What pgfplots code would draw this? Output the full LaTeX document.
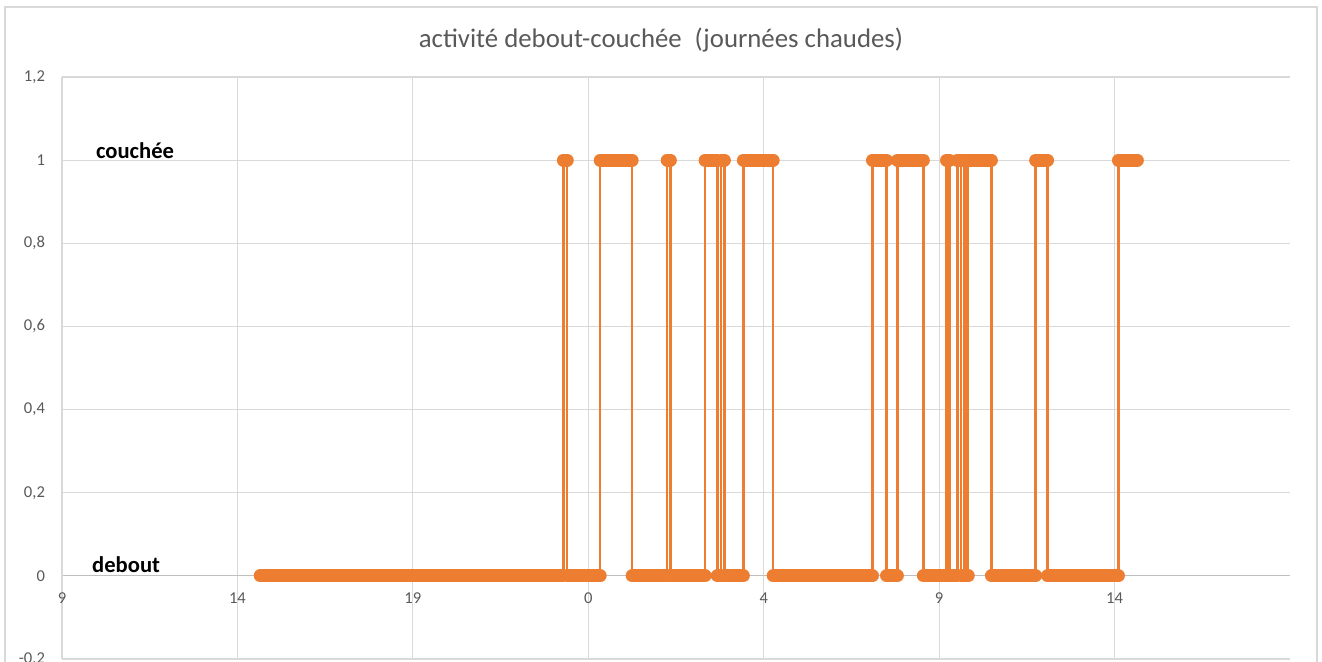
\documentclass[border=0pt]{standalone}
\usepackage{pgfplots}
\pgfplotsset{compat=1.18}
\usepackage{fontspec}
\setmainfont{Carlito}
\definecolor{orng}{HTML}{ED7D31}
\definecolor{gridc}{HTML}{D9D9D9}
\definecolor{axc}{HTML}{BFBFBF}
\definecolor{txt}{HTML}{595959}
\begin{document}
\begin{tikzpicture}[x=1pt,y=1pt]
\path[use as bounding box] (0,0) rectangle (661,331);
\draw[gridc, line width=0.75pt] (2.5,-5) -- (2.5,327.5) -- (658.5,327.5) -- (658.5,-5);
\node[text=txt, font=\fontsize{13.4}{16}\selectfont] at (330.5,311) {activité debout-couchée\hspace{0.25em} (journées chaudes)};
\begin{axis}[at={(31pt,1.5pt)}, anchor=south west, scale only axis, width=614pt, height=291pt,
 xmin=9, xmax=44, ymin=-0.2, ymax=1.2,
 xtick={9,14,19,24,29,34,39}, xticklabels={9,14,19,0,4,9,14},
 ytick={-0.2,0,0.2,0.4,0.6,0.8,1,1.2},
 yticklabels={{-0,2},{0},{0,2},{0,4},{0,6},{0,8},{1},{1,2}},
 axis x line*=middle, axis y line*=left,
 hide obscured x ticks=false, hide obscured y ticks=false,
 x axis line style={axc, line width=0.6pt}, y axis line style={gridc, line width=0.6pt},
 grid=major, grid style={gridc, line width=0.6pt},
 major tick length=0,
 tick label style={text=txt, font=\fontsize{8.3}{10}\selectfont},
 yticklabel style={xshift=-5pt}, xticklabel style={yshift=-5pt},
 unbounded coords=jump, clip=false]
\addplot[orng, line width=1.2pt, line join=round] coordinates {
(14.65,0)(23.29,0)(23.29,1)(23.40,1)(23.40,0)(24.34,0)(24.34,1)(25.25,1)(25.25,0)(26.25,0)(26.25,1)(26.34,1)(26.34,0)(27.33,0)(27.33,1)(27.68,1)(27.68,0)(27.79,0)(27.79,1)(27.88,1)(27.88,0)(28.42,0)(28.42,1)(29.27,1)(29.27,0)(32.10,0)(32.10,1)(32.50,1)(32.50,0)(32.81,0)(32.81,1)(33.55,1)(33.55,0)(34.21,0)(34.21,1)(34.29,1)(34.29,0)(34.52,0)(34.52,1)(34.63,1)(34.63,0)(34.72,0)(34.72,1)(34.78,1)(34.78,0)(34.83,0)(34.83,1)(35.49,1)(35.49,0)(36.75,0)(36.75,1)(37.09,1)(37.09,0)(39.11,0)(39.11,1)(39.65,1)
};
\addplot[orng, line width=6.5pt, line cap=round] coordinates {
(14.65,0)(23.29,0) (nan,nan)
(23.29,1)(23.40,1) (nan,nan)
(23.40,0)(24.34,0) (nan,nan)
(24.34,1)(25.25,1) (nan,nan)
(25.25,0)(26.25,0) (nan,nan)
(26.25,1)(26.34,1) (nan,nan)
(26.34,0)(27.33,0) (nan,nan)
(27.33,1)(27.68,1) (nan,nan)
(27.68,0)(27.79,0) (nan,nan)
(27.79,1)(27.88,1) (nan,nan)
(27.88,0)(28.42,0) (nan,nan)
(28.42,1)(29.27,1) (nan,nan)
(29.27,0)(32.10,0) (nan,nan)
(32.10,1)(32.50,1) (nan,nan)
(32.50,0)(32.81,0) (nan,nan)
(32.81,1)(33.55,1) (nan,nan)
(33.55,0)(34.21,0) (nan,nan)
(34.21,1)(34.29,1) (nan,nan)
(34.29,0)(34.52,0) (nan,nan)
(34.52,1)(34.63,1) (nan,nan)
(34.63,0)(34.72,0) (nan,nan)
(34.72,1)(34.78,1) (nan,nan)
(34.78,0)(34.83,0) (nan,nan)
(34.83,1)(35.49,1) (nan,nan)
(35.49,0)(36.75,0) (nan,nan)
(36.75,1)(37.09,1) (nan,nan)
(37.09,0)(39.11,0) (nan,nan)
(39.11,1)(39.65,1)
};
\node[anchor=west, font=\fontsize{11.3}{13}\selectfont\bfseries] at (axis cs:9.77,1.022) {couchée};
\node[anchor=west, font=\fontsize{11.3}{13}\selectfont\bfseries] at (axis cs:9.66,0.026) {debout};
\end{axis}
\end{tikzpicture}
\end{document}
